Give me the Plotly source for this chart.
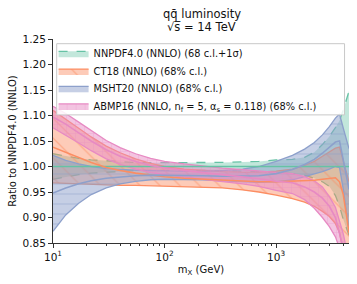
import numpy as np
import plotly.graph_objects as go

# ---------------- data ----------------
m_x = [10, 13, 17, 22, 30, 40, 55, 75, 100, 150, 220, 330, 500, 700, 1000,
       1400, 1800, 2200, 2600, 3000, 3400, 3700, 4000, 4300, 4500]

nnpdf_central = [1.0] * len(m_x)
nnpdf_upper = [1.025, 1.020, 1.016, 1.013, 1.011, 1.009, 1.008, 1.0075, 1.0075, 1.0075,
               1.0075, 1.008, 1.009, 1.010, 1.013, 1.014, 1.018, 1.028, 1.043, 1.059,
               1.076, 1.090, 1.111, 1.133, 1.148]
nnpdf_lower = [0.975, 0.980, 0.984, 0.987, 0.989, 0.991, 0.992, 0.9925, 0.9925, 0.9925,
               0.9925, 0.992, 0.991, 0.990, 0.987, 0.986, 0.983, 0.977, 0.970, 0.961,
               0.943, 0.922, 0.896, 0.878, 0.865]

ct18_central = [1.038, 1.028, 1.018, 1.008, 0.998, 0.992, 0.987, 0.983, 0.980, 0.977,
                0.975, 0.973, 0.971, 0.970, 0.970, 0.971, 0.972, 0.973, 0.975, 0.977,
                0.978, 0.970, 0.945, 0.900, 0.870]
ct18_lower = [0.968, 0.967, 0.966, 0.965, 0.964, 0.963, 0.963, 0.962, 0.962, 0.961,
              0.960, 0.958, 0.954, 0.950, 0.944, 0.937, 0.930, 0.922, 0.912, 0.902,
              0.888, 0.870, 0.830, 0.780, 0.750]
ct18_upper = [1.110, 1.092, 1.075, 1.058, 1.040, 1.027, 1.015, 1.006, 1.000, 0.995,
              0.992, 0.990, 0.989, 0.989, 0.991, 0.995, 1.002, 1.010, 1.020, 1.028,
              1.036, 1.038, 1.010, 0.985, 0.970]

msht_central = [0.948, 0.958, 0.966, 0.972, 0.977, 0.980, 0.982, 0.983, 0.983, 0.983,
                0.982, 0.981, 0.981, 0.982, 0.986, 0.994, 1.004, 1.014, 1.026, 1.038,
                1.048, 1.050, 1.010, 0.975, 0.955]
msht_lower = [0.873, 0.905, 0.928, 0.945, 0.958, 0.966, 0.971, 0.974, 0.975, 0.975,
              0.974, 0.972, 0.970, 0.969, 0.970, 0.974, 0.980, 0.985, 0.990, 0.995,
              1.000, 0.998, 0.955, 0.905, 0.880]
msht_upper = [1.022, 1.012, 1.005, 1.000, 0.996, 0.994, 0.993, 0.992, 0.991, 0.991,
              0.991, 0.992, 0.995, 1.000, 1.010, 1.022, 1.034, 1.047, 1.062, 1.078,
              1.095, 1.103, 1.075, 1.050, 1.035]

abmp_central = [1.097, 1.083, 1.066, 1.050, 1.033, 1.020, 1.010, 1.002, 0.997, 0.992,
                0.988, 0.984, 0.980, 0.976, 0.971, 0.968, 0.960, 0.950, 0.938, 0.922,
                0.900, 0.872, 0.840, 0.805, 0.780]
abmp_lower = [1.076, 1.062, 1.046, 1.031, 1.015, 1.004, 0.995, 0.988, 0.984, 0.979,
              0.975, 0.971, 0.966, 0.961, 0.953, 0.947, 0.935, 0.918, 0.900, 0.882,
              0.862, 0.840, 0.810, 0.775, 0.750]
abmp_upper = [1.118, 1.104, 1.087, 1.070, 1.051, 1.037, 1.025, 1.016, 1.010, 1.005,
              1.001, 0.997, 0.994, 0.991, 0.988, 0.986, 0.980, 0.972, 0.960, 0.941,
              0.920, 0.895, 0.868, 0.835, 0.810]

labels = ["NNPDF4.0 (NNLO) (68 c.l.+1σ)",
          "CT18 (NNLO) (68% c.l.)",
          "MSHT20 (NNLO) (68% c.l.)",
          "ABMP16 (NNLO, n<sub>f</sub> = 5, α<sub>s</sub> = 0.118) (68% c.l.)"]

title_lines = ["qq̄ luminosity", "√s̅ = 14 TeV"]
x_title = "m<sub>X</sub> (GeV)"
y_title = "Ratio to NNPDF4.0 (NNLO)"

x_tickvals = [10, 100, 1000]
x_ticktext = ["10<sup>1</sup>", "10<sup>2</sup>", "10<sup>3</sup>"]
y_tickvals = [0.85, 0.90, 0.95, 1.00, 1.05, 1.10, 1.15, 1.20, 1.25]

# ---------------- style ----------------
FONT = "DejaVu Sans"
TXT = "#111111"
colors = ["#66c2a5", "#fc8d62", "#8da0cb", "#e78ac3"]
fills = ["rgba(102,194,165,0.40)", "rgba(252,141,98,0.45)",
         "rgba(141,160,203,0.50)", "rgba(231,138,195,0.50)"]
patterns = [None, "\\", "-", "+"]
pattern_sizes = [0, 14, 10, 9]
edge_dash = ["dash", "solid", "solid", "solid"]
legend_ids = ["legend", "legend2", "legend3", "legend4"]
legend_rows_y = [0.930, 0.843, 0.758, 0.672]   # paper y of each legend row

series = [
    (nnpdf_central, nnpdf_lower, nnpdf_upper),
    (ct18_central, ct18_lower, ct18_upper),
    (msht_central, msht_lower, msht_upper),
    (abmp_central, abmp_lower, abmp_upper),
]

fig = go.Figure()

for i, (cen, lo, up) in enumerate(series):
    fig.add_trace(go.Scatter(
        x=m_x, y=lo, mode="lines",
        line=dict(color=colors[i], width=1.3, dash=edge_dash[i]),
        showlegend=False, legendgroup=str(i), hoverinfo="skip"))
    kw = {}
    if patterns[i]:
        kw["fillpattern"] = dict(shape=patterns[i], fgcolor=colors[i],
                                 size=pattern_sizes[i], solidity=0.1,
                                 fillmode="overlay")
    fig.add_trace(go.Scatter(
        x=m_x, y=up, mode="lines", fill="tonexty", fillcolor=fills[i],
        line=dict(color=colors[i], width=1.3, dash=edge_dash[i]),
        name=labels[i], legendgroup=str(i), legend=legend_ids[i], **kw))

for i, (cen, lo, up) in enumerate(series):
    fig.add_trace(go.Scatter(
        x=m_x, y=cen, mode="lines",
        line=dict(color=colors[i], width=1.6),
        showlegend=False, legendgroup=str(i), hoverinfo="skip"))

legend_common = dict(x=0.002, xanchor="left", yanchor="middle",
                     bgcolor="rgba(0,0,0,0)", borderwidth=0,
                     font=dict(family=FONT, size=9.8, color=TXT),
                     itemwidth=30, tracegroupgap=0)
layout_legends = {lid: dict(y=legend_rows_y[k], **legend_common)
                  for k, lid in enumerate(legend_ids)}

fig.update_layout(
    width=357, height=284,
    margin=dict(l=53, r=8, t=39, b=41),
    paper_bgcolor="white", plot_bgcolor="white",
    font=dict(family=FONT, size=10, color=TXT),
    showlegend=True,
    shapes=[dict(type="rect", xref="paper", yref="paper",
                 x0=0.0125, x1=0.985, y0=0.628, y1=0.977,
                 line=dict(color="#c8c8c8", width=1),
                 fillcolor="rgba(255,255,255,0.85)", layer="above")],
    annotations=[
        dict(text=title_lines[0], xref="paper", yref="paper",
             x=0.503, y=1.124, xanchor="center", yanchor="middle",
             showarrow=False, font=dict(family=FONT, size=11.5, color=TXT)),
        dict(text=title_lines[1], xref="paper", yref="paper",
             x=0.503, y=1.058, xanchor="center", yanchor="middle",
             showarrow=False, font=dict(family=FONT, size=11.5, color=TXT)),
    ],
    **layout_legends,
)

fig.update_xaxes(
    type="log", range=[1, np.log10(4500)],
    tickvals=x_tickvals, ticktext=x_ticktext,
    ticks="outside", ticklen=4, tickwidth=1, tickcolor="#333",
    minor=dict(ticks="outside", ticklen=2, tickwidth=0.8, tickcolor="#333",
               tickvals=[v * d for d in (10, 100, 1000) for v in range(2, 10)]),
    showline=True, linecolor="#333", linewidth=1, mirror=False,
    showgrid=False, zeroline=False,
    title=dict(text=x_title, font=dict(family=FONT, size=10, color=TXT), standoff=4),
    tickfont=dict(family=FONT, size=10.5, color=TXT),
)
fig.update_yaxes(
    range=[0.85, 1.25], tickvals=y_tickvals, tickformat=".2f",
    ticks="outside", ticklen=4, tickwidth=1, tickcolor="#333",
    showline=True, linecolor="#333", linewidth=1, mirror=False,
    showgrid=False, zeroline=False,
    title=dict(text=y_title, font=dict(family=FONT, size=10, color=TXT), standoff=4),
    tickfont=dict(family=FONT, size=10.5, color=TXT),
)

fig.write_html("out.html", config={"displayModeBar": False},
               post_script="document.body.style.margin='0';")
